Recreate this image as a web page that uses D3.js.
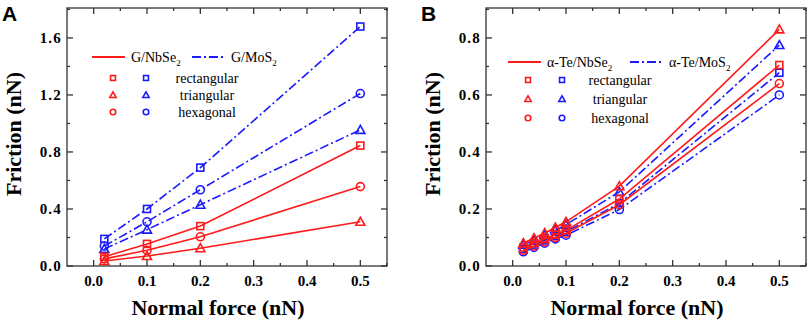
<!DOCTYPE html>
<html>
<head>
<meta charset="utf-8">
<script src="https://cdn.jsdelivr.net/npm/d3@7"></script>
<style>
  body { margin: 0; background: #fff; }
  svg { display: block; }
</style>
</head>
<body>
<svg id="chart" width="809" height="324"></svg>
<script>
// Panel A: graphene on NbSe2 / MoS2
const forceA = [0.02, 0.1, 0.2, 0.5];
const aNbSeRect = [0.065, 0.155, 0.28, 0.845];
const aNbSeTri = [0.035, 0.07, 0.125, 0.31];
const aNbSeHex = [0.05, 0.11, 0.205, 0.557];
const aMoSRect = [0.19, 0.40, 0.69, 1.68];
const aMoSTri = [0.12, 0.255, 0.43, 0.955];
const aMoSHex = [0.14, 0.31, 0.535, 1.21];

// Panel B: alpha-Te on NbSe2 / MoS2
const forceB = [0.02, 0.04, 0.06, 0.08, 0.1, 0.2, 0.5];
const bNbSeRect = [0.065, 0.08, 0.095, 0.11, 0.125, 0.235, 0.705];
const bNbSeTri = [0.08, 0.098, 0.115, 0.135, 0.155, 0.28, 0.83];
const bNbSeHex = [0.055, 0.07, 0.085, 0.1, 0.115, 0.215, 0.64];
const bMoSRect = [0.06, 0.075, 0.09, 0.105, 0.12, 0.22, 0.678];
const bMoSTri = [0.075, 0.09, 0.108, 0.125, 0.145, 0.26, 0.775];
const bMoSHex = [0.05, 0.065, 0.08, 0.095, 0.108, 0.198, 0.6];

const xTicks = [0, 0.1, 0.2, 0.3, 0.4, 0.5];
const yTicksA = [0, 0.4, 0.8, 1.2, 1.6];
const yTicksB = [0, 0.2, 0.4, 0.6, 0.8];
const shapeNames = ["rectangular", "triangular", "hexagonal"];

const RED = "#ff1a1a";
const BLUE = "#1a1aff";
const serif = "'Liberation Serif', 'Times New Roman', serif";

const svg = d3.select("#chart");

// k scales the marker (legend symbols are drawn smaller)
function marker(g, shape, cx, cy, color, k = 1) {
    let m;
    if (shape === "rectangular") {
        m = g.append("rect").attr("x", cx - 3.5 * k).attr("y", cy - 3.5 * k)
            .attr("width", 7 * k).attr("height", 7 * k);
    } else if (shape === "triangular") {
        m = g.append("path").attr("d",
            `M${cx},${cy - 4.5 * k}L${cx + 4.5 * k},${cy + 3.5 * k}L${cx - 4.5 * k},${cy + 3.5 * k}Z`);
    } else {
        m = g.append("circle").attr("cx", cx).attr("cy", cy).attr("r", 4 * k);
    }
    m.attr("fill", "none").attr("stroke", color).attr("stroke-width", 1.6);
}

function drawPanel(p) {
    const x = d3.scaleLinear().domain([-0.05, 0.55]).range([p.left, p.left + 320]);
    const y = d3.scaleLinear().domain([0, p.yMax]).range([266, 8]);
    const [x0, x1] = x.range();

    const g = svg.append("g");

    const xMinor = d3.range(0, 0.551, 0.05).filter(v => Math.round(v * 100) % 10 !== 0);
    const yMinor = d3.range(p.yStep / 2, p.yMax, p.yStep);

    // frame with inward ticks on all four sides
    const frame = g.append("g").attr("stroke", "#333").attr("stroke-width", 1.3);
    const tick = (a, b, c, d) => frame.append("line")
        .attr("x1", a).attr("y1", b).attr("x2", c).attr("y2", d);
    xTicks.forEach(v => { tick(x(v), 266, x(v), 260); tick(x(v), 8, x(v), 14); });
    xMinor.forEach(v => { tick(x(v), 266, x(v), 263); tick(x(v), 8, x(v), 11); });
    p.yTicks.forEach(v => { tick(x0, y(v), x0 + 6, y(v)); tick(x1, y(v), x1 - 6, y(v)); });
    yMinor.forEach(v => { tick(x0, y(v), x0 + 3, y(v)); tick(x1, y(v), x1 - 3, y(v)); });
    frame.append("rect")
        .attr("x", x0).attr("y", 8)
        .attr("width", 320).attr("height", 258)
        .attr("fill", "none");

    // tick labels
    g.selectAll(".xt").data(xTicks).enter().append("text")
        .attr("x", d => x(d)).attr("y", 286)
        .attr("text-anchor", "middle")
        .style("font-family", serif).style("font-weight", "bold").style("font-size", "15px")
        .text(d => d.toFixed(1));
    g.selectAll(".yt").data(p.yTicks).enter().append("text")
        .attr("x", p.left - 5).attr("y", d => y(d) + 5)
        .attr("text-anchor", "end")
        .style("font-family", serif).style("font-weight", "bold").style("font-size", "15px")
        .style("letter-spacing", "1.2px")
        .text(d => d.toFixed(1));

    // axis titles
    g.append("text")
        .attr("x", p.left + 151).attr("y", 315)
        .attr("text-anchor", "middle")
        .style("font-family", serif).style("font-weight", "bold").style("font-size", "22px")
        .text("Normal force (nN)");
    g.append("text")
        .attr("transform", `translate(${p.left - 46},134) rotate(-90)`)
        .attr("text-anchor", "middle")
        .style("font-family", serif).style("font-weight", "bold").style("font-size", "22px")
        .text("Friction (nN)");

    // panel letter
    g.append("text")
        .attr("x", p.left - 65).attr("y", 21)
        .style("font-family", "'Liberation Sans', Arial, sans-serif")
        .style("font-weight", "bold").style("font-size", "21px")
        .text(p.letter);

    // series
    const line = d3.line().x(d => x(d[0])).y(d => y(d[1]));
    p.series.forEach(s => {
        const pts = p.force.map((f, i) => [f, s.values[i]]);
        g.append("path")
            .attr("d", line(pts))
            .attr("fill", "none")
            .attr("stroke", s.color)
            .attr("stroke-width", 1.6)
            .attr("stroke-dasharray", s.color === BLUE ? "9,3,2,3" : null);
        const mg = g.append("g");
        pts.forEach(d => marker(mg, s.shape, x(d[0]), y(d[1]), s.color));
    });

    // legend
    const lg = g.append("g");
    const L = p.legend;
    lg.append("line").attr("x1", L.x).attr("x2", L.x + 33).attr("y1", L.y).attr("y2", L.y)
        .attr("stroke", RED).attr("stroke-width", 1.8);
    const t1 = lg.append("text").attr("x", L.x + 39).attr("y", L.y + 5)
        .style("font-family", serif).style("font-size", "14px");
    t1.append("tspan").text(p.labels[0]);
    t1.append("tspan").attr("dy", 4).style("font-size", "9px").text("2");
    lg.append("line").attr("x1", L.x2).attr("x2", L.x2 + 33).attr("y1", L.y).attr("y2", L.y)
        .attr("stroke", BLUE).attr("stroke-width", 1.8).attr("stroke-dasharray", "9,3,2,3");
    const t2 = lg.append("text").attr("x", L.x2 + 39).attr("y", L.y + 5)
        .style("font-family", serif).style("font-size", "14px");
    t2.append("tspan").text(p.labels[1]);
    t2.append("tspan").attr("dy", 4).style("font-size", "9px").text("2");

    shapeNames.forEach((name, i) => {
        const yy = L.rowY + i * L.rowGap;
        marker(lg, name, L.mRed, yy, RED, 0.7);
        marker(lg, name, L.mBlue, yy, BLUE, 0.7);
        lg.append("text").attr("x", L.textX).attr("y", yy + 5)
            .attr("text-anchor", "middle")
            .style("font-family", serif).style("font-size", "14px")
            .text(name);
    });
}

drawPanel({
    letter: "A", left: 67, yMax: 1.81, yStep: 0.4, yTicks: yTicksA, force: forceA,
    labels: ["G/NbSe", "G/MoS"],
    legend: { x: 92, x2: 192, y: 57, rowY: 78, rowGap: 17, mRed: 113, mBlue: 146, textX: 207 },
    series: [
        { values: aMoSRect, color: BLUE, shape: "rectangular" },
        { values: aMoSHex, color: BLUE, shape: "hexagonal" },
        { values: aMoSTri, color: BLUE, shape: "triangular" },
        { values: aNbSeRect, color: RED, shape: "rectangular" },
        { values: aNbSeHex, color: RED, shape: "hexagonal" },
        { values: aNbSeTri, color: RED, shape: "triangular" }
    ]
});

drawPanel({
    letter: "B", left: 486, yMax: 0.905, yStep: 0.2, yTicks: yTicksB, force: forceB,
    labels: ["\u03b1-Te/NbSe", "\u03b1-Te/MoS"],
    legend: { x: 508, x2: 630, y: 62, rowY: 80, rowGap: 19, mRed: 528, mBlue: 562, textX: 620 },
    series: [
        { values: bMoSTri, color: BLUE, shape: "triangular" },
        { values: bMoSRect, color: BLUE, shape: "rectangular" },
        { values: bMoSHex, color: BLUE, shape: "hexagonal" },
        { values: bNbSeTri, color: RED, shape: "triangular" },
        { values: bNbSeRect, color: RED, shape: "rectangular" },
        { values: bNbSeHex, color: RED, shape: "hexagonal" }
    ]
});
</script>
</body>
</html>
